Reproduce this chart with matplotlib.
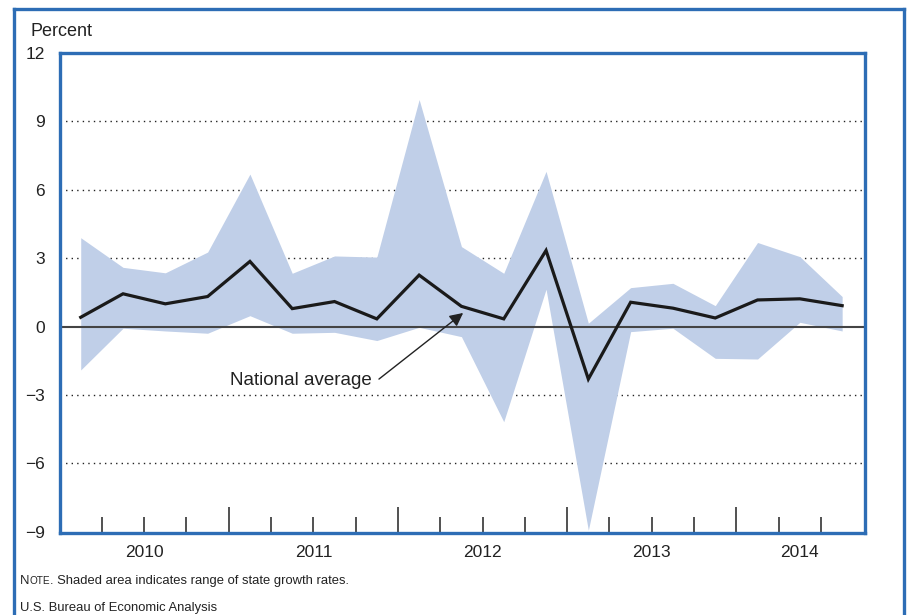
import matplotlib
matplotlib.use("Agg")
import matplotlib.pyplot as plt
from matplotlib.lines import Line2D

plt.rcParams['font.family'] = ['Liberation Sans', 'DejaVu Sans']

# quarterly data, 2010 Q1 .. 2014 Q3
quarters = list(range(19))
national = [0.41, 1.44, 1.00, 1.32, 2.86, 0.79, 1.10, 0.34, 2.26, 0.89,
            0.34, 3.34, -2.30, 1.07, 0.81, 0.38, 1.17, 1.22, 0.92]
state_high = [3.90, 2.60, 2.36, 3.27, 6.69, 2.34, 3.10, 3.05, 9.96, 3.51,
              2.34, 6.81, 0.15, 1.71, 1.90, 0.92, 3.69, 3.07, 1.32]
state_low = [-1.90, -0.07, -0.19, -0.29, 0.48, -0.29, -0.25, -0.61, -0.03, -0.44,
             -4.17, 1.64, -8.93, -0.22, -0.07, -1.39, -1.42, 0.19, -0.19]
years = ['2010', '2011', '2012', '2013', '2014']
year_pos = [1.5, 5.5, 9.5, 13.5, 17.0]
yticks = [-9, -6, -3, 0, 3, 6, 9, 12]

blue = '#2D6DB5'
band = '#C0CFE8'
ink = '#222222'

fig = plt.figure(figsize=(9.07, 6.15), dpi=100)
ax = fig.add_axes([60/907, 82/615, 805/907, 480/615])

ax.fill_between(quarters, state_low, state_high, color=band, lw=0, zorder=1)
for v in [-6, -3, 3, 6, 9]:
    ax.axhline(v, color=ink, lw=1.0, ls=(0, (1, 3)), zorder=0.5)
ax.axhline(0, color='#444444', lw=1.5, zorder=2)
ax.plot(quarters, national, color='#1a1a1a', lw=2.3, solid_joinstyle='miter', zorder=3)

ax.set_xlim(-0.49, 18.54)
ax.set_ylim(-9.05, 12)
ax.set_yticks(yticks)
ax.set_yticklabels([str(v).replace('-', '\u2212') for v in yticks], fontsize=12.5, color=ink)
ax.tick_params(axis='y', length=0, pad=11)

ax.set_xticks([3.5, 7.5, 11.5, 15.5])
ax.set_xticks([k + 0.5 for k in range(18) if (k + 0.5) not in (3.5, 7.5, 11.5, 15.5)], minor=True)
ax.set_xticklabels([])
ax.tick_params(axis='x', which='major', direction='in', length=19, width=1.2, color='#333333')
ax.tick_params(axis='x', which='minor', direction='in', length=11.5, width=1.2, color='#333333')

for yr, xp in zip(years, year_pos):
    ax.text(xp, -0.025, yr, transform=ax.get_xaxis_transform(), ha='center', va='top',
            fontsize=12.5, color=ink)

for s in ax.spines.values():
    s.set_color(blue)
    s.set_linewidth(2.4)

ax.text(6.88, -2.35, 'National average', ha='right', va='center', fontsize=13.5, color=ink)
ax.annotate('', xy=(9.04, 0.6), xytext=(7.05, -2.3),
            arrowprops=dict(arrowstyle='-|>', color=ink, lw=1.0,
                            mutation_scale=20, shrinkA=0, shrinkB=0))

fig.text(30/907, 1 - 32/615, 'Percent', fontsize=13, color=ink, va='center')

# note line with small caps "Note"
note_y = 1 - 584/615
t1 = fig.text(20/907, note_y, 'N', fontsize=9.4, color=ink, va='baseline')
fig.canvas.draw()
x2 = t1.get_window_extent().x1 / fig.bbox.width
t2 = fig.text(x2, note_y, 'OTE', fontsize=7.2, color=ink, va='baseline')
fig.canvas.draw()
x3 = t2.get_window_extent().x1 / fig.bbox.width
fig.text(x3, note_y, '. Shaded area indicates range of state growth rates.',
         fontsize=9.4, color=ink, va='baseline')
fig.text(20/907, 1 - 611/615, 'U.S. Bureau of Economic Analysis', fontsize=9.4,
         color=ink, va='baseline')

# outer panel frame
fig.add_artist(Line2D([14/907, 14/907], [0, 1 - 9/615], color=blue, lw=2.4))
fig.add_artist(Line2D([904/907, 904/907], [0, 1 - 9/615], color=blue, lw=2.4))
fig.add_artist(Line2D([14/907, 904/907], [1 - 9/615, 1 - 9/615], color=blue, lw=2.4))

fig.savefig('out.png', dpi=100)
